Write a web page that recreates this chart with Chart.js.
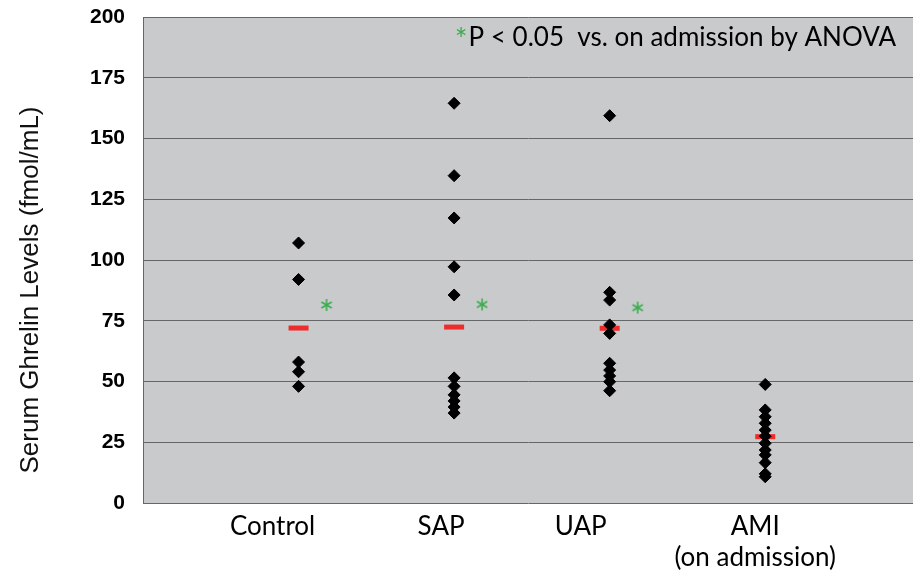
<!DOCTYPE html>
<html lang="en">
<head>
  <meta charset="UTF-8">
  <title>Serum Ghrelin Levels</title>
  <script src="https://cdn.jsdelivr.net/npm/chart.js"></script>
  <style>
    html, body { margin: 0; padding: 0; background: #fff; }
    #wrap { width: 913px; height: 577px; }
  </style>
</head>
<body>
  <div id="wrap"><canvas id="myChart"></canvas></div>
  <script>
    // data
    const categories = ['Control', 'SAP', 'UAP', 'AMI\n(on admission)'];
    const controlValues = [107, 92, 58, 54, 48];
    const sapValues = [164.5, 134.7, 117.3, 97.2, 85.6, 51.5, 48, 44.5, 42, 39.5, 37];
    const uapValues = [159.4, 86.7, 83.5, 73.3, 69.8, 57.5, 54.7, 52.3, 49.9, 46.2];
    const amiValues = [48.8, 38.3, 35.5, 32.8, 30, 27.5, 24.6, 21.8, 19.8, 16.6, 12, 10.8];
    const meanValues = [72, 72.4, 71.9, 27.3];
    const starValues = [81.5, 81.7, 80.4];
    const yTicks = [0, 25, 50, 75, 100, 125, 150, 175, 200];

    const groups = [controlValues, sapValues, uapValues, amiValues];
    const pointData = [];
    groups.forEach((vals, i) => vals.forEach(v => pointData.push({ x: i + 1, y: v })));
    const meanData = meanValues.map((v, i) => ({ x: i + 1, y: v }));
    const starData = starValues.map((v, i) => ({ x: i + 1.18, y: v }));

    // small green asterisk used as a point style
    const starImg = document.createElement('canvas');
    starImg.width = 14; starImg.height = 14;
    (function () {
      const c = starImg.getContext('2d');
      c.strokeStyle = '#3aae4c';
      c.lineWidth = 1.6;
      c.translate(7, 7);
      [90, 30, 150].forEach(a => {
        const r = a * Math.PI / 180;
        c.beginPath();
        c.moveTo(-6 * Math.cos(r), -6 * Math.sin(r));
        c.lineTo(6 * Math.cos(r), 6 * Math.sin(r));
        c.stroke();
      });
    })();

    const labelNudge = [-26, -13, -29, -10];

    const decor = {
      id: 'decor',
      beforeDraw(chart) {
        const { ctx, chartArea: a } = chart;
        ctx.save();
        ctx.fillStyle = '#c9cacc';
        ctx.fillRect(a.left, a.top, a.right - a.left, a.bottom - a.top);
        ctx.restore();
      },
      afterDraw(chart) {
        const { ctx, chartArea: a } = chart;
        const xs = chart.scales.x;
        ctx.save();
        // category labels
        ctx.fillStyle = '#000';
        ctx.font = '26px Lato';
        ctx.textAlign = 'center';
        ctx.textBaseline = 'middle';
        categories.forEach((lab, i) => {
          const x = xs.getPixelForValue(i + 1) + labelNudge[i];
          lab.split('\n').forEach((line, j) => {
            ctx.fillText(line, x, a.bottom + 24 + j * 31);
          });
        });
        // y title
        ctx.save();
        ctx.translate(31, (a.top + a.bottom) / 2 + 30);
        ctx.rotate(-Math.PI / 2);
        ctx.font = '26px "Liberation Sans"';
        ctx.fillStyle = '#111';
        ctx.fillText('Serum Ghrelin Levels (fmol/mL)', 0, 0);
        ctx.restore();
        // note
        const note = 'P < 0.05  vs. on admission by ANOVA';
        ctx.font = '26px Lato';
        ctx.textAlign = 'right';
        ctx.textBaseline = 'alphabetic';
        const nx = a.right - 17;
        ctx.fillText(note, nx, a.top + 29);
        const w = ctx.measureText(note).width;
        ctx.fillStyle = '#3aae4c';
        ctx.font = '30px Lato';
        ctx.fillText('*', nx - w - 1, a.top + 33);
        ctx.restore();
      }
    };

    const ctx = document.getElementById('myChart').getContext('2d');
    const myChart = new Chart(ctx, {
      type: 'scatter',
      data: {
        datasets: [
          {
            label: 'values',
            data: pointData,
            pointStyle: 'rectRot',
            pointRadius: 6,
            backgroundColor: '#000',
            borderColor: '#000',
            borderWidth: 1,
          },
          {
            label: 'mean',
            data: meanData,
            pointStyle: 'line',
            pointRadius: 10,
            borderColor: '#ee2c2c',
            borderWidth: 5,
          },
          {
            label: 'p',
            data: starData,
            pointStyle: starImg,
          },
        ],
      },
      options: {
        responsive: true,
        maintainAspectRatio: false,
        animation: false,
        layout: { autoPadding: false, padding: { left: 0, right: 0, top: 17, bottom: 74 } },
        plugins: {
          legend: { display: false },
          tooltip: { enabled: false },
        },
        scales: {
          x: {
            type: 'linear',
            min: 0,
            max: 4.95,
            display: false,
          },
          y: {
            min: 0,
            max: 200,
            afterBuildTicks: s => { s.ticks = yTicks.map(v => ({ value: v })); },
            afterFit: s => { s.width = 143; s.paddingTop = 0; s.paddingBottom = 0; },
            border: { display: true, color: '#666', width: 1 },
            grid: { color: '#666', lineWidth: 1, drawTicks: false },
            ticks: {
              padding: 18,
              color: '#000',
              font: { family: '"Liberation Sans"', size: 21, weight: 'bold' },
            },
          },
        },
      },
      plugins: [decor],
    });
  </script>
</body>
</html>
